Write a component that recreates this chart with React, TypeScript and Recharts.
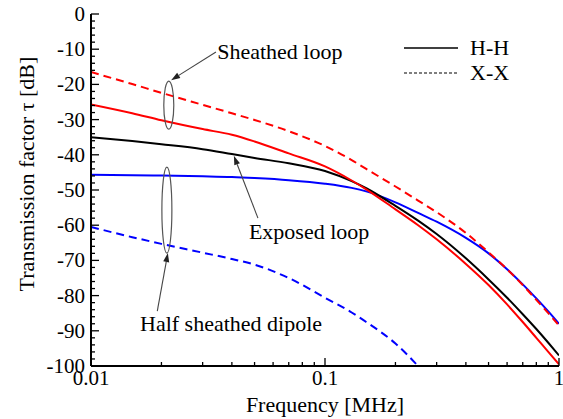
import { LineChart, Line, XAxis, YAxis, ReferenceDot, ReferenceLine, Legend } from "recharts";

// frequency in MHz
const freq = [0.01, 0.015, 0.02, 0.03, 0.04, 0.05, 0.07, 0.1, 0.13, 0.15, 0.2, 0.25, 0.3, 0.4, 0.5, 0.6, 0.7, 0.8, 0.9, 1];

// sheathed loop (red)
const sheathedHH = [-25.7, -28.2, -30.2, -32.7, -34.3, -36.2, -39.6, -43.3, -47.3, -49.8, -55.5, -60, -64, -71, -77, -82.5, -87.5, -92, -96, -99.5];
const sheathedXX = [-16.5, -19.9, -22.4, -25.8, -28.2, -30.1, -33.3, -37.5, -41.5, -44, -49, -53, -56.3, -62.2, -67.7, -72.5, -77, -81.2, -85, -88.5];
// exposed loop (black)
const exposedHH = [-35, -36.1, -37, -38.4, -39.8, -40.9, -42.4, -44.6, -47.5, -49.5, -54.5, -58.7, -62.5, -69.4, -75.4, -80.6, -85.3, -89.5, -93.4, -97];
// half sheathed dipole (blue)
const dipoleHH = [-45.7, -45.8, -45.9, -46.1, -46.3, -46.6, -47.2, -48.2, -49.4, -50.4, -53.5, -56.5, -59, -63.6, -68, -72.5, -76.8, -80.8, -84.5, -88];
const dipoleXX = [-60.5, -63.4, -65.3, -67.8, -69.6, -71.2, -75, -80.6, -84.8, -87.5, -93.6, -100];

const xTicks = [0.01, 0.02, 0.03, 0.04, 0.05, 0.06, 0.07, 0.08, 0.09, 0.1, 0.2, 0.3, 0.4, 0.5, 0.6, 0.7, 0.8, 0.9, 1];
const xLabels: Record<string, string> = { "0.01": "0.01", "0.1": "0.1", "1": "1" };
const yTicks = Array.from({ length: 51 }, (_, i) => -100 + i * 2);

const data = freq.map((f, i) => ({
  f,
  sheathedHH: sheathedHH[i],
  sheathedXX: sheathedXX[i],
  exposedHH: exposedHH[i],
  dipoleHH: dipoleHH[i],
  dipoleXX: dipoleXX[i] ?? null,
}));

const FONT = '"Liberation Serif", "Times New Roman", serif';
const txt = { fontFamily: FONT };

const isMajorX = (v: number) => xLabels[String(v)] !== undefined;

function BottomTick(props: any) {
  const { x, y, payload } = props;
  const v = payload.value;
  const major = isMajorX(v);
  return (
    <g>
      <line x1={x} x2={x} y1={y} y2={y - (major ? 8 : 4)} stroke="#000" strokeWidth={1.3} />
      {major && (
        <text x={x} y={y + 19} textAnchor="middle" fontSize={21} style={txt} fill="#000">
          {xLabels[String(v)]}
        </text>
      )}
    </g>
  );
}

function TopTick(props: any) {
  const { x, y, payload } = props;
  const major = isMajorX(payload.value);
  return <line x1={x} x2={x} y1={y} y2={y + (major ? 8 : 4)} stroke="#000" strokeWidth={1.3} />;
}

function LeftTick(props: any) {
  const { x, y, payload } = props;
  const v = payload.value;
  const major = v % 10 === 0;
  return (
    <g>
      <line x1={x} x2={x + (major ? 8 : 4)} y1={y} y2={y} stroke="#000" strokeWidth={1.3} />
      {major && (
        <text x={x - 6} y={y + 7} textAnchor="end" fontSize={21} style={txt} fill="#000">
          {v}
        </text>
      )}
    </g>
  );
}

function RightTick(props: any) {
  const { x, y, payload } = props;
  const major = payload.value % 10 === 0;
  return <line x1={x} x2={x - (major ? 8 : 4)} y1={y} y2={y} stroke="#000" strokeWidth={1.3} />;
}

function Arrow(props: any) {
  const { x1, y1, x2, y2 } = props;
  const a = Math.atan2(y2 - y1, x2 - x1);
  const L = 9;
  const w = 3;
  const bx = x2 - L * Math.cos(a);
  const by = y2 - L * Math.sin(a);
  const px = -Math.sin(a) * w;
  const py = Math.cos(a) * w;
  return (
    <g>
      <line x1={x1} y1={y1} x2={bx} y2={by} stroke="#444" strokeWidth={1.1} />
      <polygon points={`${x2},${y2} ${bx + px},${by + py} ${bx - px},${by - py}`} fill="#222" />
    </g>
  );
}

const ellipseShape = (ry: number) => (props: any) => (
  <ellipse cx={props.cx} cy={props.cy} rx={5} ry={ry} fill="none" stroke="#555" strokeWidth={1.2} />
);

const textShape = (label: string) => (props: any) => (
  <text x={props.cx} y={props.cy + 7} fontSize={22} style={txt} fill="#000">
    {label}
  </text>
);

function LegendBox() {
  return (
    <svg width={140} height={60} style={{ overflow: "visible" }}>
      <line x1={4} x2={58} y1={12} y2={12} stroke="#000" strokeWidth={1.3} />
      <text x={70} y={19} fontSize={22} style={txt} fill="#000">H-H</text>
      <line x1={4} x2={58} y1={37} y2={37} stroke="#000" strokeWidth={1.1} strokeDasharray="3 2" />
      <text x={70} y={44} fontSize={22} style={txt} fill="#000">X-X</text>
    </svg>
  );
}

function YTitle(props: any) {
  const vb = props.viewBox;
  const cx = vb.x + 34;
  const cy = vb.y + 160;
  return (
    <text
      x={cx}
      y={cy}
      transform={`rotate(-90 ${cx} ${cy})`}
      textAnchor="middle"
      fontSize={22}
      style={txt}
      fill="#000"
    >
      Transmission factor τ  [dB]
    </text>
  );
}

function XTitle(props: any) {
  const vb = props.viewBox;
  return (
    <text x={vb.x + vb.width / 2} y={vb.y + 46} textAnchor="middle" fontSize={22} style={txt} fill="#000">
      Frequency [MHz]
    </text>
  );
}

export default function App() {
  const axisLine = { stroke: "#000", strokeWidth: 2 };
  return (
    <div style={{ position: "absolute", left: 0, top: 0, width: 563, height: 419, background: "#fff", fontFamily: FONT }}>
      <LineChart width={563} height={419} data={data} margin={{ top: 14, right: 4, bottom: 0, left: 0 }}>
        <XAxis
          xAxisId="bottom"
          dataKey="f"
          type="number"
          scale="log"
          domain={[0.01, 1]}
          allowDataOverflow
          ticks={xTicks}
          interval={0}
          tickSize={0}
          tickMargin={0}
          tickLine={false}
          tick={(p: any) => <BottomTick {...p} />}
          axisLine={axisLine}
          height={53}
          label={{ content: (p: any) => <XTitle {...p} /> }}
        />
        <XAxis
          xAxisId="top"
          orientation="top"
          dataKey="f"
          type="number"
          scale="log"
          domain={[0.01, 1]}
          allowDataOverflow
          ticks={xTicks}
          interval={0}
          tickSize={0}
          tickMargin={0}
          tickLine={false}
          tick={(p: any) => <TopTick {...p} />}
          axisLine={axisLine}
          height={0}
        />
        <YAxis
          yAxisId="left"
          type="number"
          domain={[-100, 0]}
          allowDataOverflow
          ticks={yTicks}
          interval={0}
          tickSize={0}
          tickMargin={0}
          tickLine={false}
          tick={(p: any) => <LeftTick {...p} />}
          axisLine={axisLine}
          width={91}
          label={{ content: (p: any) => <YTitle {...p} /> }}
        />
        <YAxis
          yAxisId="right"
          orientation="right"
          type="number"
          domain={[-100, 0]}
          allowDataOverflow
          ticks={yTicks}
          interval={0}
          tickSize={0}
          tickMargin={0}
          tickLine={false}
          tick={(p: any) => <RightTick {...p} />}
          axisLine={axisLine}
          width={0}
        />

        <Line xAxisId="bottom" yAxisId="left" type="monotone" dataKey="dipoleXX" stroke="#0000ff" strokeWidth={2} strokeDasharray="8 5" dot={false} isAnimationActive={false} />
        <Line xAxisId="bottom" yAxisId="left" type="monotone" dataKey="dipoleHH" stroke="#0000ff" strokeWidth={2} dot={false} isAnimationActive={false} />
        <Line xAxisId="bottom" yAxisId="left" type="monotone" dataKey="sheathedXX" stroke="#ff0000" strokeWidth={2} strokeDasharray="8 5" dot={false} isAnimationActive={false} />
        <Line xAxisId="bottom" yAxisId="left" type="monotone" dataKey="exposedHH" stroke="#000" strokeWidth={2} dot={false} isAnimationActive={false} />
        <Line xAxisId="bottom" yAxisId="left" type="monotone" dataKey="sheathedHH" stroke="#ff0000" strokeWidth={2} dot={false} isAnimationActive={false} />

        {/* annotations */}
        <ReferenceDot xAxisId="bottom" yAxisId="left" x={0.0215} y={-25.9} r={0} shape={ellipseShape(24)} />
        <ReferenceDot xAxisId="bottom" yAxisId="left" x={0.0211} y={-55.7} r={0} shape={ellipseShape(43)} />
        <ReferenceLine xAxisId="bottom" yAxisId="left" segment={[{ x: 0.0342, y: -10.8 }, { x: 0.022, y: -18.8 }]} shape={(p: any) => <Arrow {...p} />} />
        <ReferenceLine xAxisId="bottom" yAxisId="left" segment={[{ x: 0.0517, y: -58 }, { x: 0.0408, y: -40.3 }]} shape={(p: any) => <Arrow {...p} />} />
        <ReferenceLine xAxisId="bottom" yAxisId="left" segment={[{ x: 0.0192, y: -84.4 }, { x: 0.0213, y: -67.9 }]} shape={(p: any) => <Arrow {...p} />} />
        <ReferenceDot xAxisId="bottom" yAxisId="left" x={0.0346} y={-10.8} r={0} shape={textShape("Sheathed loop")} />
        <ReferenceDot xAxisId="bottom" yAxisId="left" x={0.0473} y={-61.9} r={0} shape={textShape("Exposed loop")} />
        <ReferenceDot xAxisId="bottom" yAxisId="left" x={0.0162} y={-88.1} r={0} shape={textShape("Half sheathed dipole")} />

        <Legend
          layout="vertical"
          align="center"
          verticalAlign="middle"
          content={() => <LegendBox />}
          wrapperStyle={{ left: 400, top: 36, width: 140, height: 60 }}
        />
      </LineChart>
    </div>
  );
}
